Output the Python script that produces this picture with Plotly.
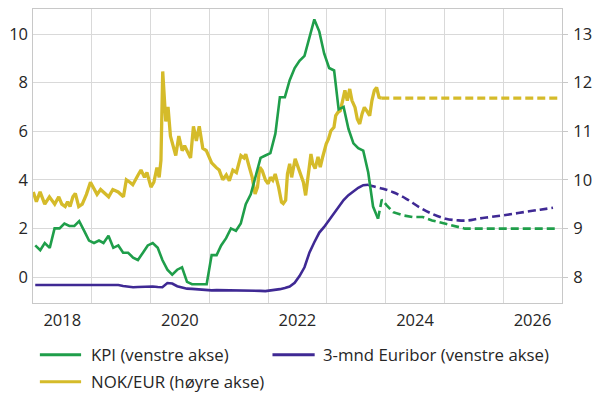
import plotly.graph_objects as go

# ---------------- data ----------------
# KPI (euro area, % y/y), monthly Jan 2018 - Nov 2023 (left axis)
kpi_dates = [f"{y}-{m:02d}-15" for y in range(2018, 2024) for m in range(1, 13)][:71]
kpi_values = [
    1.3, 1.1, 1.4, 1.2, 2.0, 2.0, 2.2, 2.1, 2.1, 2.3, 1.9, 1.5,
    1.4, 1.5, 1.4, 1.7, 1.2, 1.3, 1.0, 1.0, 0.8, 0.7, 1.0, 1.3,
    1.4, 1.2, 0.7, 0.3, 0.1, 0.3, 0.4, -0.2, -0.3, -0.3, -0.3, -0.3,
    0.9, 0.9, 1.3, 1.6, 2.0, 1.9, 2.2, 3.0, 3.4, 4.1, 4.9, 5.0,
    5.1, 5.9, 7.4, 7.4, 8.1, 8.6, 8.9, 9.1, 9.9, 10.6, 10.1, 9.2,
    8.6, 8.5, 6.9, 7.0, 6.1, 5.5, 5.3, 5.2, 4.3, 2.9, 2.4,
]
# KPI forecast (dashed)
kpi_fc_dates = ["2023-11-15", "2023-12-08", "2024-01-08", "2024-02-17", "2024-04-16",
                "2024-06-17", "2024-08-18", "2024-10-16", "2025-01-08", "2025-03-28",
                "2025-05-08", "2026-12-10"]
kpi_fc_values = [2.4, 3.18, 2.95, 2.67, 2.54, 2.47, 2.47, 2.33, 2.19, 2.05, 1.99, 1.99]

# 3-month Euribor (%), monthly Jan 2018 - Sep 2023 (left axis)
eur_dates = [f"{y}-{m:02d}-15" for y in range(2018, 2024) for m in range(1, 13)][:69]
eur_values = [
    -0.33, -0.33, -0.33, -0.33, -0.33, -0.33, -0.33, -0.33, -0.33, -0.33, -0.33, -0.33,
    -0.31, -0.31, -0.31, -0.31, -0.31, -0.33, -0.37, -0.41, -0.42, -0.41, -0.40, -0.39,
    -0.39, -0.41, -0.42, -0.25, -0.27, -0.38, -0.44, -0.48, -0.49, -0.51, -0.52, -0.54,
    -0.55, -0.54, -0.54, -0.54, -0.54, -0.54, -0.54, -0.55, -0.55, -0.55, -0.57, -0.58,
    -0.56, -0.53, -0.50, -0.45, -0.39, -0.24, 0.04, 0.40, 1.01, 1.43, 1.83, 2.06,
    2.35, 2.64, 2.91, 3.17, 3.37, 3.54, 3.67, 3.78, 3.80,
]
# Euribor forecast (dashed)
eur_fc_dates = ["2023-09-15", "2023-10-15", "2023-12-16", "2024-02-17", "2024-05-08",
                "2024-07-27", "2024-10-16", "2025-01-08", "2025-03-28", "2025-05-30",
                "2025-07-28", "2025-10-16", "2026-01-26", "2026-05-08", "2026-08-18",
                "2026-11-06"]
eur_fc_values = [3.80, 3.73, 3.63, 3.49, 3.22, 2.88, 2.60, 2.40, 2.33, 2.33,
                 2.40, 2.47, 2.56, 2.67, 2.77, 2.85]

# NOK/EUR (right axis)
nok_dates = [
    "2018-01-03", "2018-01-22", "2018-02-14", "2018-03-15", "2018-04-13", "2018-05-16",
    "2018-06-10", "2018-06-29", "2018-07-20", "2018-08-04", "2018-08-19", "2018-09-06",
    "2018-09-21", "2018-10-12", "2018-11-03", "2018-11-29", "2018-12-24", "2019-01-15",
    "2019-02-03", "2019-02-25", "2019-03-15", "2019-04-16", "2019-05-12", "2019-06-14",
    "2019-07-17", "2019-08-04", "2019-08-26", "2019-09-13", "2019-10-16", "2019-11-03",
    "2019-11-25", "2019-12-10", "2020-01-04", "2020-01-22", "2020-02-10", "2020-02-24",
    "2020-03-06", "2020-03-17", "2020-04-05", "2020-04-19", "2020-05-04", "2020-06-06",
    "2020-06-25", "2020-07-16", "2020-07-31", "2020-09-06", "2020-09-24", "2020-10-12",
    "2020-10-30", "2020-11-21", "2020-12-13", "2021-01-15", "2021-02-13", "2021-03-03",
    "2021-03-25", "2021-04-16", "2021-05-05", "2021-05-27", "2021-06-18", "2021-07-16",
    "2021-08-04", "2021-08-15", "2021-09-06", "2021-09-24", "2021-10-12", "2021-10-27",
    "2021-11-10", "2021-11-25", "2021-12-16", "2022-01-01", "2022-01-15", "2022-01-30",
    "2022-02-14", "2022-03-07", "2022-03-25", "2022-04-05", "2022-04-20", "2022-05-01",
    "2022-05-15", "2022-05-27", "2022-06-18", "2022-07-06", "2022-07-24", "2022-08-08",
    "2022-08-22", "2022-09-06", "2022-09-24", "2022-10-05", "2022-10-20", "2022-11-07",
    "2022-11-21", "2022-12-06", "2022-12-28", "2023-01-11", "2023-01-26", "2023-02-14",
    "2023-02-25", "2023-03-11", "2023-03-25", "2023-04-09", "2023-04-23", "2023-05-08",
    "2023-05-23", "2023-06-06", "2023-06-25", "2023-07-09", "2023-07-24", "2023-08-08",
    "2023-08-22", "2023-09-06", "2023-09-24", "2023-10-08", "2023-10-23", "2023-11-06",
    "2023-11-21", "2023-12-05",
]
nok_values = [
    9.75, 9.55, 9.75, 9.50, 9.65, 9.50,
    9.65, 9.50, 9.45, 9.55, 9.45, 9.65,
    9.72, 9.45, 9.50, 9.70, 9.95, 9.80,
    9.70, 9.80, 9.75, 9.65, 9.80, 9.75,
    9.65, 10.00, 9.95, 9.90, 10.10, 10.20,
    10.05, 10.15, 9.85, 9.95, 10.25, 10.05,
    10.40, 12.23, 11.20, 11.50, 10.90, 10.50,
    10.90, 10.60, 10.70, 10.45, 11.10, 10.80,
    11.10, 10.65, 10.60, 10.35, 10.25, 10.20,
    10.00, 10.10, 9.98, 10.20, 10.15, 10.50,
    10.45, 10.53, 10.26, 10.05, 9.71, 9.85,
    10.26, 10.19, 9.99, 9.92, 10.05, 9.99,
    10.12, 9.85, 9.54, 9.51, 9.58, 10.12,
    10.33, 10.05, 10.43, 10.26, 10.12, 9.95,
    9.68, 10.05, 10.53, 10.33, 10.23, 10.47,
    10.26, 10.47, 10.74, 10.84, 11.01, 11.08,
    11.32, 11.39, 11.42, 11.63, 11.84, 11.63,
    11.87, 11.63, 11.49, 11.25, 11.15, 11.36,
    11.49, 11.42, 11.32, 11.63, 11.84, 11.90,
    11.70, 11.68,
]
nok_fc_dates = ["2023-12-05", "2026-12-10"]
nok_fc_values = [11.68, 11.68]

# axis ticks
x_tick_vals = ["2018-07-02", "2020-07-02", "2022-07-02", "2024-07-02", "2026-07-02"]
x_tick_text = ["2018", "2020", "2022", "2024", "2026"]
left_ticks = [0, 2, 4, 6, 8, 10]
right_ticks = [8, 9, 10, 11, 12, 13]

series_names = ["KPI (venstre akse)", "3-mnd Euribor (venstre akse)", "NOK/EUR (høyre akse)"]

# ---------------- style ----------------
GREEN = "#1f9e4a"
PURPLE = "#3f2994"
YELLOW = "#d5bb2a"
GRID = "#d9d9d9"
FRAME = "#c8c8c8"
TEXT = "#262626"
FONT = "Open Sans"
DASH = "8px,4px"
TICK_SIZE = 16.5
LEG_SIZE = 16.8

W, H = 600, 394
L, R, T, B = 33, 28, 8, 91
PW, PH = W - L - R, H - T - B


def px(xp):
    return (xp - L) / PW


def py(yp):
    return (H - B - yp) / PH


fig = go.Figure()

# NOK/EUR on primary (right) axis - drawn below the others
fig.add_trace(go.Scatter(x=nok_dates, y=nok_values, mode="lines", name=series_names[2],
                         line=dict(color=YELLOW, width=3.3), yaxis="y", showlegend=False))
fig.add_trace(go.Scatter(x=nok_fc_dates, y=nok_fc_values, mode="lines",
                         line=dict(color=YELLOW, width=3.3, dash=DASH), yaxis="y", showlegend=False))

# Euribor and KPI on left axis (overlay)
fig.add_trace(go.Scatter(x=eur_dates, y=eur_values, mode="lines", name=series_names[1],
                         line=dict(color=PURPLE, width=2.6), yaxis="y2", showlegend=False))
fig.add_trace(go.Scatter(x=eur_fc_dates, y=eur_fc_values, mode="lines",
                         line=dict(color=PURPLE, width=2.6, dash=DASH, shape="spline"),
                         yaxis="y2", showlegend=False))
fig.add_trace(go.Scatter(x=kpi_dates, y=kpi_values, mode="lines", name=series_names[0],
                         line=dict(color=GREEN, width=2.6), yaxis="y2", showlegend=False))
fig.add_trace(go.Scatter(x=kpi_fc_dates, y=kpi_fc_values, mode="lines",
                         line=dict(color=GREEN, width=2.6, dash=DASH),
                         yaxis="y2", showlegend=False))

# manual legend (line samples + real text)
legend_items = [
    (series_names[0], GREEN, 40, 82, 90, 355),
    (series_names[1], PURPLE, 277, 320, 326, 355),
    (series_names[2], YELLOW, 40, 82, 90, 382),
]
shapes = []
annotations = []
for name, col, x0, x1, xt, yc in legend_items:
    shapes.append(dict(type="line", xref="paper", yref="paper",
                       x0=px(x0), x1=px(x1), y0=py(yc), y1=py(yc),
                       line=dict(color=col, width=3)))
    annotations.append(dict(text=name, xref="paper", yref="paper", x=px(xt), y=py(yc),
                            xanchor="left", yanchor="middle", showarrow=False,
                            font=dict(family=FONT, size=LEG_SIZE, color=TEXT)))

fig.update_layout(
    width=W, height=H,
    margin=dict(l=L, r=R, t=T, b=B, pad=0),
    plot_bgcolor="white", paper_bgcolor="white",
    font=dict(family=FONT, size=TICK_SIZE, color=TEXT),
    showlegend=False,
    hovermode=False,
    shapes=shapes,
    annotations=annotations,
    xaxis=dict(
        type="date", range=["2018-01-01", "2027-01-01"],
        tickvals=x_tick_vals, ticktext=x_tick_text,
        showgrid=False, ticks="", zeroline=False,
        showline=True, linecolor=FRAME, linewidth=1, mirror=True,
        minor=dict(dtick="M12", tick0="2018-01-01", showgrid=True,
                   gridcolor=GRID, gridwidth=1, ticks=""),
        ticklabelstandoff=2,
    ),
    yaxis=dict(
        side="right", range=[7.465, 13.515], tickvals=right_ticks,
        showgrid=False, zeroline=False,
        ticks="outside", ticklen=5, tickcolor=FRAME,
        showline=True, linecolor=FRAME, linewidth=1, mirror=True,
        ticklabelstandoff=2,
    ),
    yaxis2=dict(
        overlaying="y", side="left", range=[-1.07, 11.03], tickvals=left_ticks,
        showgrid=True, gridcolor=GRID, gridwidth=1, zeroline=False,
        ticks="", showline=False,
        ticklabelstandoff=4,
    ),
)

fig.write_html("out.html",
               config={"displayModeBar": False, "staticPlot": True},
               post_script="document.body.style.margin='0';document.body.style.overflow='hidden';")
